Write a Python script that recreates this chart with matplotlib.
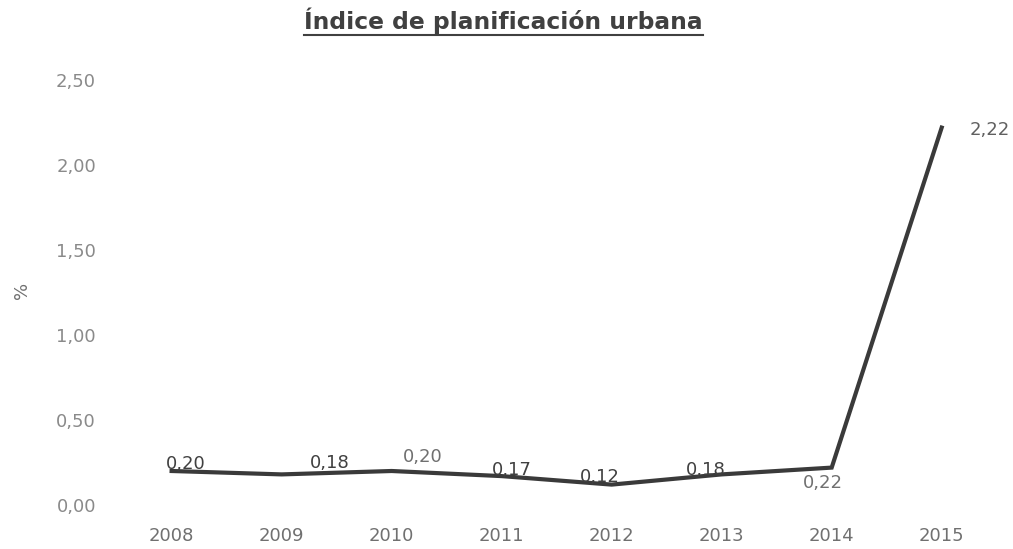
import matplotlib.pyplot as plt
from matplotlib.lines import Line2D

years = [2008, 2009, 2010, 2011, 2012, 2013, 2014, 2015]
values = [0.20, 0.18, 0.20, 0.17, 0.12, 0.18, 0.22, 2.22]
labels = ["0,20", "0,18", "0,20", "0,17", "0,12", "0,18", "0,22", "2,22"]
yticks = [0.0, 0.5, 1.0, 1.5, 2.0, 2.5]
ytick_labels = ["0,00", "0,50", "1,00", "1,50", "2,00", "2,50"]

# label offsets in pixels and colours
offsets = [(14, 7), (48, 11), (31, 14), (10, 6), (-12, 8), (-16, 4), (-9, -15), (48, -2)]
label_colors = ["#404040", "#404040", "#707070", "#404040", "#404040", "#404040", "#707070", "#606060"]

plt.rcParams['font.family'] = ['DejaVu Sans']

fig = plt.figure(figsize=(10.13, 5.49), dpi=100)
ax = fig.add_axes([110 / 1013, 1 - 505 / 549, 890 / 1013, 425 / 549])

ax.plot(years, values, color="#3a3a3a", linewidth=3, solid_joinstyle="miter")

for x, v, t, (dx, dy), c in zip(years, values, labels, offsets, label_colors):
    ax.annotate(t, (x, v), xytext=(dx, dy), textcoords="offset pixels",
                ha="center", va="center", fontsize=13, color=c)

ax.set_xlim(2007.44, 2015.53)
ax.set_ylim(0, 2.5)
ax.set_xticks(years)
ax.set_xticklabels([str(y) for y in years])
ax.set_yticks(yticks)
ax.set_yticklabels(ytick_labels)
ax.tick_params(axis="x", length=0, pad=16, labelsize=13, labelcolor="#707070")
ax.tick_params(axis="y", length=0, pad=10, labelsize=13, labelcolor="#8a8a8a")
for s in ax.spines.values():
    s.set_visible(False)

fig.text(22 / 1013, 1 - 290 / 549, "%", rotation=90, ha="center", va="center",
         fontsize=13, color="#707070")

title = fig.text(0.497, 1 - 21 / 549, "Índice de planificación urbana", ha="center", va="center",
                 fontsize=16.8, fontweight="bold", color="#404040", family="DejaVu Sans")

# underline the title
fig.canvas.draw()
bb = title.get_window_extent(renderer=fig.canvas.get_renderer())
uy = (bb.y0 - 1) / fig.bbox.height
fig.add_artist(Line2D([bb.x0 / fig.bbox.width, bb.x1 / fig.bbox.width], [uy, uy],
                      transform=fig.transFigure, color="#404040", linewidth=1.5))

fig.savefig("out.png", dpi=100)
